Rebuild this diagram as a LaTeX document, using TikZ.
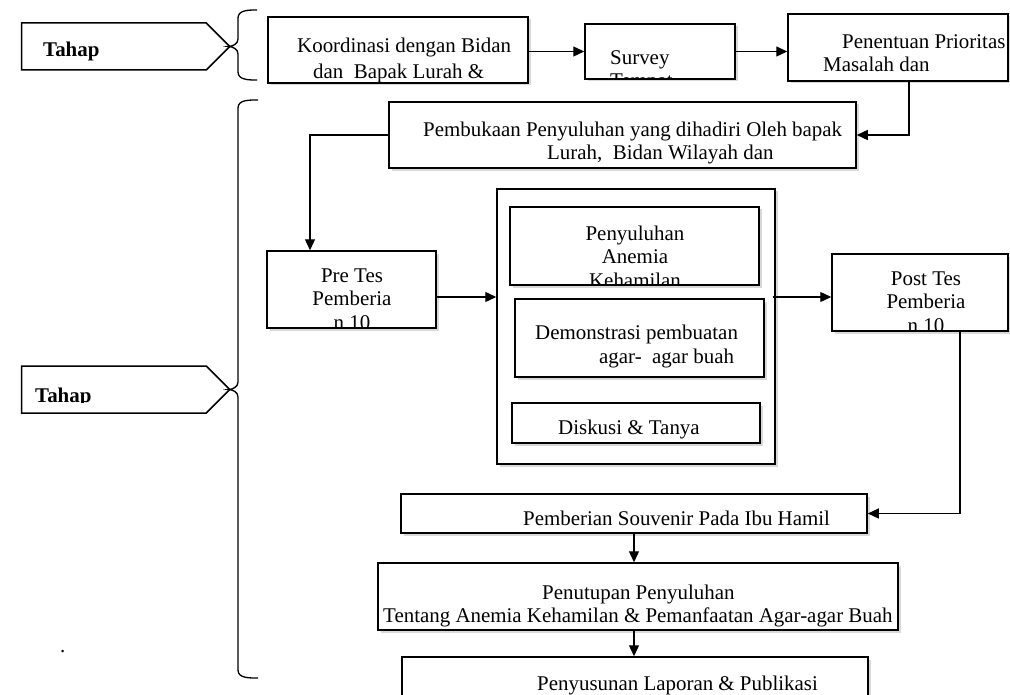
\documentclass[tikz,border=0pt]{standalone}
\usepackage{fontspec}
\setmainfont{Liberation Serif}
\usetikzlibrary{arrows.meta,shadows,shapes.symbols}

\begin{document}
\begin{tikzpicture}[x=1bp, y=-1bp,
    box/.style={draw, line width=1.5bp, fill=white, inner sep=0pt,
        drop shadow={shadow xshift=2.5bp, shadow yshift=-2.5bp, opacity=0.3}},
    txt/.style={inner sep=0pt, font=\fontsize{21}{23.5}\selectfont},
    tahap/.style={draw, line width=1.5bp, signal, signal to=east,
        signal pointer angle=90, inner sep=0pt, minimum width=208bp, minimum height=47bp},
    link/.style={line width=1.3bp, -{Triangle[length=11bp,width=10bp]}},
    brace/.style={line width=1.3bp}]
    \useasboundingbox (0,0) rectangle (1010,695);

    % Nodes
    \node [tahap] (tahap1) at (114,46.5) {};
    \node [tahap] (tahap2) at (114,389.5) {};
    \node [box, minimum width=260bp, minimum height=66bp] (koord) at (398,50) {};
    \node [box, minimum width=150bp, minimum height=55bp] (survey) at (660,51.5) {};
    \node [box, minimum width=220bp, minimum height=67bp] (prior) at (898,47.5) {};
    \node [box, minimum width=467bp, minimum height=66bp] (pembuka) at (622.5,135) {};
    \node [box, minimum width=169bp, minimum height=77bp] (pretes) at (351.5,289.5) {};
    \node [box, minimum width=278bp, minimum height=275bp] (panel) at (636,326.5) {};
    \node [box, minimum width=249bp, minimum height=78bp] (materi) at (634.5,246) {};
    \node [box, minimum width=249bp, minimum height=78bp] (demo) at (639.5,338) {};
    \node [box, minimum width=248bp, minimum height=40bp] (diskusi) at (636,423) {};
    \node [box, minimum width=176bp, minimum height=77bp] (posttes) at (920,292.5) {};
    \node [box, minimum width=466bp, minimum height=39bp] (souvenir) at (634,513.5) {};
    \node [box, minimum width=520bp, minimum height=67bp] (tutup) at (638,596.5) {};
    \node [box, minimum width=466bp, minimum height=73bp] (lapor) at (635,693.5) {};

    % Texts (anchored on the baseline of the last line)
    \node [txt, anchor=base west, font=\fontsize{21}{23.5}\selectfont\bfseries] (tahap1t) at (43,57) {Tahap};
    \begin{scope}
        \clip (0,366) rectangle (200,402);
        \node [txt, anchor=base west, font=\fontsize{21}{23.5}\selectfont\bfseries] (tahap2t) at (35,402) {Tahap};
    \end{scope}
    \node [txt, anchor=base west, align=left] (koordt) at (297,79) {Koordinasi dengan Bidan\\[3.5bp]\hspace*{16bp}dan\ \ Bapak Lurah \&};
    \begin{scope}
        \clip (survey.south west) rectangle (survey.north east);
        \node [txt, anchor=base west, align=left] (surveyt) at (610,88) {Survey\\Tempat};
    \end{scope}
    \node [txt, anchor=base west, align=left] (priort) at (823,72) {\hspace*{19bp}Penentuan Prioritas\\Masalah dan};
    \node [txt, anchor=base west, align=left] (pembukat) at (423,160) {Pembukaan Penyuluhan yang dihadiri Oleh bapak\\\hspace*{124bp}Lurah,\ \ Bidan Wilayah dan};
    \begin{scope}
        \clip (pretes.south west) rectangle (pretes.north east);
        \node [txt, anchor=base, align=center] (pretest) at (352,329) {Pre Tes\\Pemberia\\n 10};
    \end{scope}
    \begin{scope}
        \clip (materi.south west) rectangle (materi.north east);
        \node [txt, anchor=base, align=center] (materit) at (635,287) {Penyuluhan\\Anemia\\Kehamilan};
    \end{scope}
    \node [txt, anchor=base west, align=left] (demot) at (535,363) {Demonstrasi pembuatan\\\hspace*{64bp}agar-\ \ agar buah};
    \node [txt, anchor=base west] (diskusit) at (558,434) {Diskusi \& Tanya};
    \begin{scope}
        \clip (posttes.south west) rectangle (posttes.north east);
        \node [txt, anchor=base, align=center] (posttest) at (926,332) {Post Tes\\Pemberia\\n 10};
    \end{scope}
    \node [txt, anchor=base west] (souvenirt) at (523,525) {Pemberian Souvenir Pada Ibu Hamil};
    \node [txt, anchor=base west, align=left] (tutupt) at (383,622.5) {\hspace*{159bp}Penutupan Penyuluhan\\Tentang Anemia Kehamilan \& Pemanfaatan Agar-agar Buah};
    \node [txt, anchor=base west] (laport) at (537,690) {Penyusunan Laporan \& Publikasi};
    \node [txt, anchor=base west] (titik) at (60,652) {.};

    % Braces
    \coordinate (brace1) at (228,46.5);
    \coordinate (brace2) at (228,389.5);
    \draw [brace] (257,10) to[out=180,in=90] (238,18) -- (238,39) to[out=-90,in=0] (brace1)
        to[out=0,in=90] (238,54) -- (238,72) to[out=-90,in=180] (257,80);
    \draw [brace] (258,100) to[out=180,in=90] (238,108) -- (238,382) to[out=-90,in=0] (brace2)
        to[out=0,in=90] (238,397) -- (238,670) to[out=-90,in=180] (258,678);
    \draw [brace] (tahap1.east) -- (brace1);
    \draw [brace] (tahap2.east) -- (brace2);

    % Path
    \draw [link] (koord.east |- survey.west) -- (survey.west);
    \draw [link] (survey.east) -- (survey.east -| prior.west);
    \draw [link] ([xshift=11bp]prior.south) |- (pembuka.east);
    \draw [link] (pembuka.west) -| ([xshift=-41.5bp]pretes.north);
    \draw [link] ([yshift=-7.5bp]pretes.east) -- ([yshift=-7.5bp]pretes.east -| panel.west);
    \draw [link] ([yshift=-4.5bp,xshift=-3bp]posttes.west -| panel.east) -- ([yshift=-4.5bp]posttes.west);
    \draw [link] ([xshift=40bp]posttes.south) |- (souvenir.east);
    \draw [link] (souvenir.south) -- (souvenir.south |- tutup.north);
    \draw [link] (souvenir.south |- tutup.south) -- (souvenir.south |- lapor.north);
\end{tikzpicture}
\end{document}
